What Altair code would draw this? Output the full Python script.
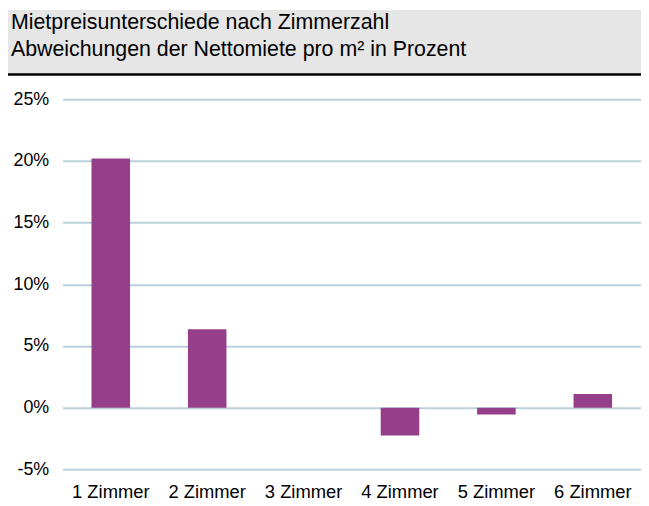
import altair as alt
import pandas as pd

categories = ["1 Zimmer", "2 Zimmer", "3 Zimmer", "4 Zimmer", "5 Zimmer", "6 Zimmer"]
values = [20.2, 6.35, 0.0, -2.25, -0.55, 1.1]
y_ticks = [-5, 0, 5, 10, 15, 20, 25]
title_lines = ["Mietpreisunterschiede nach Zimmerzahl", "Abweichungen der Nettomiete pro m² in Prozent"]

FONT = "Liberation Sans"
W, H = 583, 373

df = pd.DataFrame({"Zimmer": categories, "Wert": values})

bars = alt.Chart(df).mark_bar(color="#953F8B").encode(
    x=alt.X("Zimmer:N", sort=categories, title=None,
            scale=alt.Scale(paddingInner=0.6, paddingOuter=0.3),
            axis=alt.Axis(labelAngle=0, labelFont=FONT, labelFontSize=18.5, labelColor="#000000",
                          labelPadding=13, domain=False, ticks=False, grid=False)),
    y=alt.Y("Wert:Q", title=None,
            scale=alt.Scale(domain=[-5, 25], nice=False, zero=False),
            axis=alt.Axis(values=y_ticks, labelExpr="datum.value + '%'", labelFont=FONT,
                          labelFontSize=18, labelColor="#000000", labelPadding=14,
                          domain=False, ticks=False, grid=True, gridColor="#bcd2da",
                          gridWidth=2)),
)

box = alt.Chart(pd.DataFrame({"a": [0]})).mark_rect(color="#e6e6e6").encode(
    x=alt.value(-55), x2=alt.value(W + 10), y=alt.value(-90), y2=alt.value(-25)
)
rule = alt.Chart(pd.DataFrame({"a": [0]})).mark_rule(color="#000000", strokeWidth=2.5).encode(
    x=alt.value(-55), x2=alt.value(W + 10), y=alt.value(-25)
)
t1 = alt.Chart(pd.DataFrame({"t": [title_lines[0]]})).mark_text(
    align="left", baseline="middle", font=FONT, fontSize=21.5, color="#000000"
).encode(x=alt.value(-52), y=alt.value(-77), text="t:N")
t2 = alt.Chart(pd.DataFrame({"t": [title_lines[1]]})).mark_text(
    align="left", baseline="middle", font=FONT, fontSize=21.5, color="#000000"
).encode(x=alt.value(-52), y=alt.value(-50), text="t:N")

chart = alt.layer(box, rule, t1, t2, bars).properties(
    width=W, height=H,
    autosize=alt.AutoSizeParams(type="none"),
    padding={"left": 55, "top": 90, "right": 0, "bottom": 35},
).configure_view(stroke=None)

chart.save("out.html", embed_options={"renderer": "svg", "actions": False})
